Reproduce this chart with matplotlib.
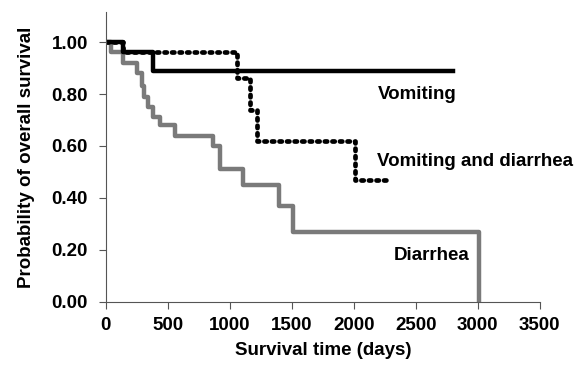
import matplotlib
matplotlib.use("Agg")
import matplotlib.pyplot as plt

plt.rcParams["font.family"] = ["Liberation Sans", "DejaVu Sans"]
plt.rcParams["font.weight"] = "bold"
plt.rcParams["axes.labelweight"] = "bold"

# ── Data ───────────────────────────────────────────────
vom_t = [0, 140, 380, 2800]
vom_s = [1.00, 0.96, 0.89, 0.89]

vd_t = [0, 140, 1060, 1160, 1220, 2010, 2300]
vd_s = [1.00, 0.96, 0.86, 0.74, 0.62, 0.47, 0.47]

dia_t = [0, 40, 140, 250, 290, 310, 340, 380, 440, 560, 865, 920, 1105, 1400, 1510, 3010, 3010]
dia_s = [1.00, 0.96, 0.92, 0.88, 0.83, 0.79, 0.75, 0.71, 0.68, 0.64, 0.60, 0.51, 0.45, 0.37, 0.27, 0.27, 0.00]

x_ticks = [0, 500, 1000, 1500, 2000, 2500, 3000, 3500]
y_ticks = [0.0, 0.2, 0.4, 0.6, 0.8, 1.0]

FS = 13.5

# ── Plot ───────────────────────────────────────────────
fig = plt.figure(figsize=(5.88, 3.69), dpi=100)
ax = fig.add_axes([0.180, 0.182, 0.738, 0.785])

ax.step(dia_t, dia_s, where="post", color="#7a7a7a", lw=3.2)
ax.step(vd_t, vd_s, where="post", color="black", lw=3.4,
        linestyle=(0, (0.5, 1.1)), dash_capstyle="round")
ax.step(vom_t, vom_s, where="post", color="black", lw=3.2)

ax.text(2830, 0.80, "Vomiting", ha="right", va="center", fontsize=FS)
ax.text(2186, 0.54, "Vomiting and diarrhea", ha="left", va="center", fontsize=FS)
ax.text(2936, 0.18, "Diarrhea", ha="right", va="center", fontsize=FS)

ax.set_xlim(0, 3500)
ax.set_ylim(0, 1.115)
ax.set_xticks(x_ticks)
ax.set_yticks(y_ticks)
ax.set_yticklabels([f"{v:.2f}" for v in y_ticks])
ax.tick_params(labelsize=FS, length=5, color="#555555")
ax.tick_params(axis="y", pad=8)
ax.tick_params(axis="x", pad=6)

ax.spines["top"].set_visible(False)
ax.spines["right"].set_visible(False)
ax.spines["left"].set_color("#555555")
ax.spines["bottom"].set_color("#555555")

ax.set_xlabel("Survival time (days)", fontsize=FS, labelpad=6)
ax.set_ylabel("Probability of overall survival", fontsize=FS, labelpad=12)

plt.savefig("out.png", dpi=100)
